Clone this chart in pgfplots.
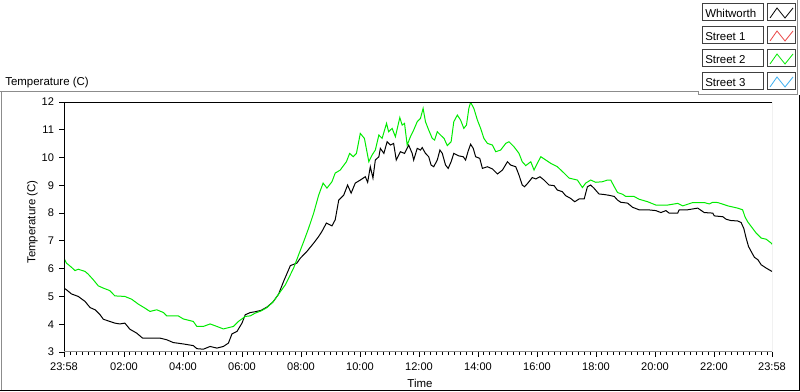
\documentclass[border=0pt]{standalone}
\usepackage{pgfplots}
\pgfplotsset{compat=1.18}
\usepackage{fontspec}
\setmainfont{Liberation Sans}
\definecolor{lvgreen}{RGB}{0,235,0}
\definecolor{lvred}{RGB}{235,70,70}
\definecolor{lvblue}{RGB}{60,175,240}
\definecolor{frame}{RGB}{140,140,140}
\begin{document}
\begin{tikzpicture}
\useasboundingbox (0,0) rectangle (600pt,294pt);
\begin{axis}[
  at={(48pt,30pt)}, anchor=south west,
  width=531pt, height=187.5pt, scale only axis,
  xmin=-0.0333, xmax=23.9667, ymin=3, ymax=12,
  axis line style={draw=none},
  tick pos=left, tick align=outside,
  major tick length=3.5pt, minor tick length=2.2pt,
  every tick/.style={black, line width=0.6pt},
  xtick={-0.0333,2,4,6,8,10,12,14,16,18,20,22,23.9667},
  xticklabels={23:58,02:00,04:00,06:00,08:00,10:00,12:00,14:00,16:00,18:00,20:00,22:00,23:58},
  minor xtick={0.2,0.4,...,23.81},
  ytick={3,4,...,12},
  /pgf/number format/assume math mode=true,
  tick label style={font=\fontsize{8.3}{10}\selectfont},
  xticklabel style={yshift=-1pt},
  yticklabel style={xshift=-0.5pt},
  clip=true,
]
\addplot[black, line width=0.75pt] coordinates {
(-0.033,5.30)(0.05,5.24)(0.22,5.09)(0.45,5.00)(0.68,4.82)(0.85,4.60)(1.02,4.52)(1.19,4.34)(1.30,4.18)(1.52,4.10)(1.69,4.04)(1.86,4.01)(2.03,4.04)(2.20,3.82)(2.43,3.68)(2.63,3.50)(2.88,3.50)(3.22,3.50)(3.45,3.44)(3.67,3.34)(4.01,3.29)(4.35,3.23)(4.47,3.12)(4.69,3.10)(4.92,3.20)(5.15,3.14)(5.37,3.20)(5.54,3.32)(5.66,3.65)(5.83,3.74)(6.00,4.04)(6.11,4.34)(6.28,4.42)(6.45,4.45)(6.65,4.50)(6.85,4.62)(7.05,4.80)(7.24,5.08)(7.41,5.54)(7.64,6.11)(7.86,6.20)(7.98,6.38)(8.20,6.62)(8.43,6.92)(8.60,7.16)(8.71,7.34)(8.86,7.64)(9.05,7.54)(9.16,7.76)(9.28,8.47)(9.45,8.65)(9.58,9.01)(9.70,8.72)(9.84,9.08)(10.01,9.19)(10.18,9.31)(10.26,9.11)(10.35,9.67)(10.44,9.26)(10.52,9.91)(10.64,10.03)(10.69,10.33)(10.81,10.15)(10.92,10.57)(11.03,10.45)(11.14,10.51)(11.23,9.91)(11.37,10.21)(11.51,10.15)(11.65,10.45)(11.77,10.15)(11.82,9.91)(11.94,10.33)(12.05,10.27)(12.11,10.36)(12.22,10.15)(12.33,10.03)(12.41,9.73)(12.50,9.67)(12.62,9.91)(12.71,10.27)(12.79,10.15)(12.90,9.73)(12.99,9.61)(13.09,9.85)(13.18,10.15)(13.35,10.06)(13.50,10.03)(13.58,9.91)(13.66,10.21)(13.75,10.48)(13.84,10.33)(13.92,10.03)(14.06,9.97)(14.15,9.61)(14.32,9.67)(14.49,9.59)(14.66,9.41)(14.83,9.55)(15.00,9.85)(15.11,9.73)(15.28,9.67)(15.39,9.37)(15.50,9.01)(15.58,8.95)(15.69,9.08)(15.84,9.28)(15.96,9.23)(16.10,9.31)(16.24,9.19)(16.41,9.01)(16.58,8.99)(16.69,8.83)(16.86,8.77)(16.97,8.63)(17.14,8.53)(17.28,8.41)(17.43,8.51)(17.60,8.51)(17.71,8.95)(17.82,9.01)(17.93,8.90)(18.10,8.69)(18.27,8.67)(18.45,8.64)(18.62,8.60)(18.73,8.47)(18.84,8.39)(19.07,8.36)(19.24,8.21)(19.46,8.12)(19.75,8.12)(20.03,8.09)(20.20,8.02)(20.37,8.09)(20.48,8.00)(20.77,8.00)(20.82,8.12)(21.11,8.12)(21.45,8.18)(21.67,8.02)(21.96,8.00)(22.01,7.90)(22.30,7.87)(22.41,7.78)(22.58,7.73)(22.80,7.72)(22.92,7.66)(23.01,7.45)(23.09,7.10)(23.17,6.80)(23.26,6.62)(23.37,6.41)(23.49,6.32)(23.60,6.14)(23.77,6.02)(23.967,5.90)
};
\addplot[lvgreen, line width=0.75pt] coordinates {
(-0.033,6.38)(0.05,6.20)(0.22,6.05)(0.34,5.93)(0.45,5.98)(0.68,5.90)(0.79,5.80)(0.96,5.60)(1.13,5.38)(1.30,5.30)(1.52,5.21)(1.69,5.02)(2.03,5.00)(2.26,4.90)(2.49,4.72)(2.71,4.58)(2.88,4.46)(3.11,4.52)(3.34,4.42)(3.45,4.30)(3.84,4.30)(4.01,4.19)(4.35,4.10)(4.47,3.92)(4.69,3.92)(4.92,4.01)(5.15,3.92)(5.37,3.83)(5.71,3.92)(5.88,4.10)(6.11,4.28)(6.28,4.30)(6.45,4.40)(6.65,4.48)(6.85,4.60)(7.05,4.80)(7.24,5.08)(7.47,5.42)(7.75,6.02)(7.92,6.50)(8.09,6.97)(8.26,7.46)(8.43,8.00)(8.60,8.65)(8.75,9.08)(8.88,8.90)(9.05,9.13)(9.16,9.44)(9.33,9.55)(9.54,9.85)(9.65,10.15)(9.77,10.03)(9.88,10.15)(10.01,10.87)(10.15,10.69)(10.30,9.85)(10.41,10.09)(10.52,10.27)(10.64,10.81)(10.75,10.69)(10.90,11.23)(10.97,10.93)(11.09,11.05)(11.20,10.75)(11.35,11.44)(11.43,11.17)(11.51,11.23)(11.60,10.45)(11.71,10.75)(11.82,10.99)(11.94,11.29)(12.05,11.41)(12.14,11.77)(12.22,11.29)(12.33,10.99)(12.45,10.69)(12.53,10.63)(12.62,10.93)(12.73,10.81)(12.85,10.69)(12.96,10.43)(13.09,10.57)(13.18,11.29)(13.30,11.53)(13.41,11.35)(13.52,11.05)(13.61,11.17)(13.69,11.77)(13.75,11.99)(13.86,11.77)(13.98,11.35)(14.09,11.05)(14.20,10.69)(14.32,10.51)(14.49,10.45)(14.60,10.21)(14.77,10.27)(14.94,10.51)(15.05,10.57)(15.22,10.39)(15.39,10.15)(15.50,9.85)(15.62,9.71)(15.79,9.85)(15.90,9.55)(16.01,9.79)(16.13,10.03)(16.30,9.91)(16.47,9.79)(16.69,9.67)(16.92,9.44)(17.09,9.26)(17.37,9.19)(17.54,8.92)(17.65,9.08)(17.82,9.19)(17.99,9.11)(18.22,9.13)(18.39,9.19)(18.50,9.19)(18.62,8.95)(18.73,8.74)(18.90,8.68)(19.01,8.60)(19.29,8.60)(19.46,8.50)(19.75,8.41)(20.03,8.29)(20.43,8.29)(20.77,8.35)(20.94,8.26)(21.28,8.38)(21.67,8.38)(21.84,8.33)(21.96,8.39)(22.13,8.38)(22.47,8.26)(22.80,8.18)(22.97,8.12)(23.05,7.87)(23.14,7.69)(23.31,7.45)(23.43,7.28)(23.60,7.10)(23.77,7.06)(23.94,6.92)(23.967,6.88)
};
\draw[black, line width=0.75pt] (rel axis cs:0,0) -- (rel axis cs:0,1) -- (rel axis cs:1,1);
\draw[frame, line width=0.75pt] (rel axis cs:1,1) -- (rel axis cs:1,0) -- (rel axis cs:0,0);
\end{axis}
\begin{scope}[x=0.75pt, y=0.75pt]
  % outer panel
  \draw[frame, line width=0.75pt] (0,300) -- (698,300) -- (698,297) -- (797,297) -- (797,392);
  \draw[frame, line width=0.75pt] (1,300) -- (1,2);
  \draw[black, line width=0.75pt] (0,1) -- (799,1) -- (799,297);
  % labels
  \node[anchor=base west, inner sep=0pt, font=\fontsize{8.6}{10}\selectfont] at (5,306) {Temperature (C)};
  \node[rotate=90, inner sep=0pt, font=\fontsize{8.6}{10}\selectfont] at (32.5,170) {Temperature (C)};
  \node[anchor=base, inner sep=0pt, font=\fontsize{8.6}{10}\selectfont] at (420,4) {Time};
  % legend
  \foreach \i/\name/\col in {0/Whitworth/black, 1/Street 1/lvred, 2/Street 2/lvgreen, 3/Street 3/lvblue} {
    \pgfmathsetmacro{\top}{388-23*\i}
    \draw[black!75, line width=0.75pt, fill=white] (702,\top) rectangle (763,\top-17);
    \node[anchor=base west, inner sep=0pt, font=\fontsize{8.6}{10}\selectfont] at (705,\top-13.5) {\name};
    \draw[black!75, line width=0.75pt, fill=white] (767.5,\top) rectangle (795.5,\top-17);
    \draw[\col, line width=0.6pt] (770,\top-14) -- (777,\top-4) -- (785,\top-14) -- (793,\top-4);
  }
\end{scope}
\end{tikzpicture}
\end{document}
